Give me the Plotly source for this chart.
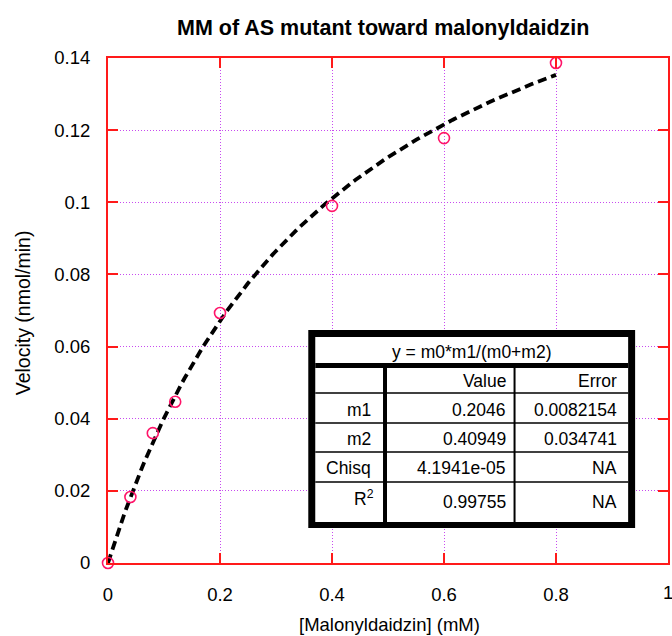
import plotly.graph_objects as go
import numpy as np

# Substrate concentration (mM) and measured velocity (nmol/min)
conc = [0.0, 0.04, 0.08, 0.12, 0.2, 0.4, 0.6, 0.8]
velocity = [0.0, 0.0183, 0.0360, 0.0447, 0.0693, 0.0990, 0.1178, 0.1386]

# Michaelis-Menten fit results: y = m1*x/(x+m2)
fit_equation = "y = m0*m1/(m0+m2)"
fit_header = ["", "Value", "Error"]
fit_rows = ["m1", "m2", "Chisq", "R<sup>2</sup>"]
fit_values = ["0.2046", "0.40949", "4.1941e-05", "0.99755"]
fit_errors = ["0.0082154", "0.034741", "NA", "NA"]
m1 = 0.2046
m2 = 0.40949

x_ticks = [0, 0.2, 0.4, 0.6, 0.8, 1]
y_ticks = [0, 0.02, 0.04, 0.06, 0.08, 0.1, 0.12, 0.14]

W, H = 672, 636
L, R, T, B = 108, 2, 58, 73
PW, PH = W - L - R, H - T - B

FONT = "Liberation Sans, Arial, sans-serif"
RED = "#FF1A1A"
GRID = "#C84BF0"
MARK = "#FF1469"


def px(x):
    return (x - L) / PW


def py(y):
    return (H - B - y) / PH


xf = np.linspace(0, 0.8, 200)
yf = m1 * xf / (xf + m2)

fig = go.Figure()
fig.add_trace(go.Scatter(
    x=xf, y=yf, mode="lines",
    line=dict(color="black", width=3.8, dash="9px,5px"),
    hoverinfo="skip", showlegend=False,
))
fig.add_trace(go.Scatter(
    x=conc, y=velocity, mode="markers",
    marker=dict(symbol="circle-open", size=11, color=MARK, line=dict(width=1.6, color=MARK)),
    cliponaxis=False, showlegend=False,
))

shapes = []
annotations = []

# Fit-result table box
bx0, bx1, by0, by1 = 309, 637, 330, 528
shapes.append(dict(type="rect", xref="paper", yref="paper",
                   x0=px(bx0), x1=px(bx1), y0=py(by1), y1=py(by0),
                   fillcolor="black", line=dict(width=0), layer="above"))
ix0, ix1, iy0, iy1 = 316, 630, 337, 522
shapes.append(dict(type="rect", xref="paper", yref="paper",
                   x0=px(ix0), x1=px(ix1), y0=py(iy1), y1=py(iy0),
                   fillcolor="white", line=dict(width=0), layer="above"))
# thick separator under the equation row
shapes.append(dict(type="rect", xref="paper", yref="paper",
                   x0=px(ix0), x1=px(ix1), y0=py(368), y1=py(363),
                   fillcolor="black", line=dict(width=0), layer="above"))
# thick vertical line after the label column
shapes.append(dict(type="rect", xref="paper", yref="paper",
                   x0=px(384), x1=px(388), y0=py(iy1), y1=py(366),
                   fillcolor="black", line=dict(width=0), layer="above"))
# thin vertical line between Value and Error
shapes.append(dict(type="line", xref="paper", yref="paper",
                   x0=px(516), x1=px(516), y0=py(iy1), y1=py(366),
                   line=dict(color="black", width=2), layer="above"))
row_edges = [368, 393, 423, 452, 482, 522]
for yl in row_edges[1:-1]:
    shapes.append(dict(type="line", xref="paper", yref="paper",
                       x0=px(ix0), x1=px(ix1), y0=py(yl), y1=py(yl),
                       line=dict(color="black", width=1.5), layer="above"))

tfont = dict(family=FONT, size=17.5, color="black")
annotations.append(dict(text=fit_equation, xref="paper", yref="paper",
                        x=px((ix0 + ix1) / 2), y=py(352), xanchor="center", yanchor="middle",
                        showarrow=False, font=tfont))
col_right = [374, 509, 621]
row_centers = [381, 410, 439, 468, 502]
cells = [fit_header] + [[r, v, e] for r, v, e in zip(fit_rows, fit_values, fit_errors)]
for i, row in enumerate(cells):
    for j, txt in enumerate(row):
        if not txt:
            continue
        annotations.append(dict(text=txt, xref="paper", yref="paper",
                                x=px(col_right[j] + (3 if i == 4 and j == 0 else 0)),
                                y=py(row_centers[i] - (4 if i == 4 and j == 0 else 0)),
                                xanchor="right", yanchor="middle",
                                showarrow=False, font=tfont))

# Title and axis titles
annotations.append(dict(text="<b>MM of AS mutant toward malonyldaidzin</b>", xref="paper", yref="paper",
                        x=px(384), y=py(28), xanchor="center", yanchor="middle",
                        showarrow=False, font=dict(family=FONT, size=21.5, color="black")))
annotations.append(dict(text="[Malonyldaidzin] (mM)", xref="paper", yref="paper",
                        x=px(391), y=py(624), xanchor="center", yanchor="middle",
                        showarrow=False, font=dict(family=FONT, size=18.5, color="black")))
annotations.append(dict(text="Velocity (nmol/min)", xref="paper", yref="paper",
                        x=px(23), y=py(313), xanchor="center", yanchor="middle", textangle=-90,
                        showarrow=False, font=dict(family=FONT, size=19.5, color="black")))
# last x tick label sits on the right edge of the figure
annotations.append(dict(text=f"{x_ticks[-1]:g}", xref="x", yref="paper",
                        x=x_ticks[-1], y=py(592), xanchor="center", yanchor="middle",
                        showarrow=False, font=dict(family=FONT, size=18.5, color="black")))

axis_common = dict(
    showline=True, linecolor=RED, linewidth=2, mirror="ticks",
    ticks="inside", ticklen=10, tickwidth=1.5, tickcolor=RED,
    showgrid=True, gridcolor=GRID, gridwidth=1, griddash="1px,2px",
    zeroline=False, tickfont=dict(family=FONT, size=18.5, color="black"),
)

fig.update_layout(
    width=W, height=H, margin=dict(l=L, r=R, t=T, b=B),
    paper_bgcolor="white", plot_bgcolor="rgba(0,0,0,0)",
    xaxis=dict(range=[0, 1], tickvals=x_ticks[:-1], ticktext=[f"{v:g}" for v in x_ticks[:-1]],
               ticklabelstandoff=14, **axis_common),
    yaxis=dict(range=[0, 0.14], tickvals=y_ticks, ticktext=[f"{v:g}" for v in y_ticks],
               ticklabelstandoff=12, **axis_common),
    shapes=shapes, annotations=annotations, showlegend=False,
)

fig.write_html("out.html")
